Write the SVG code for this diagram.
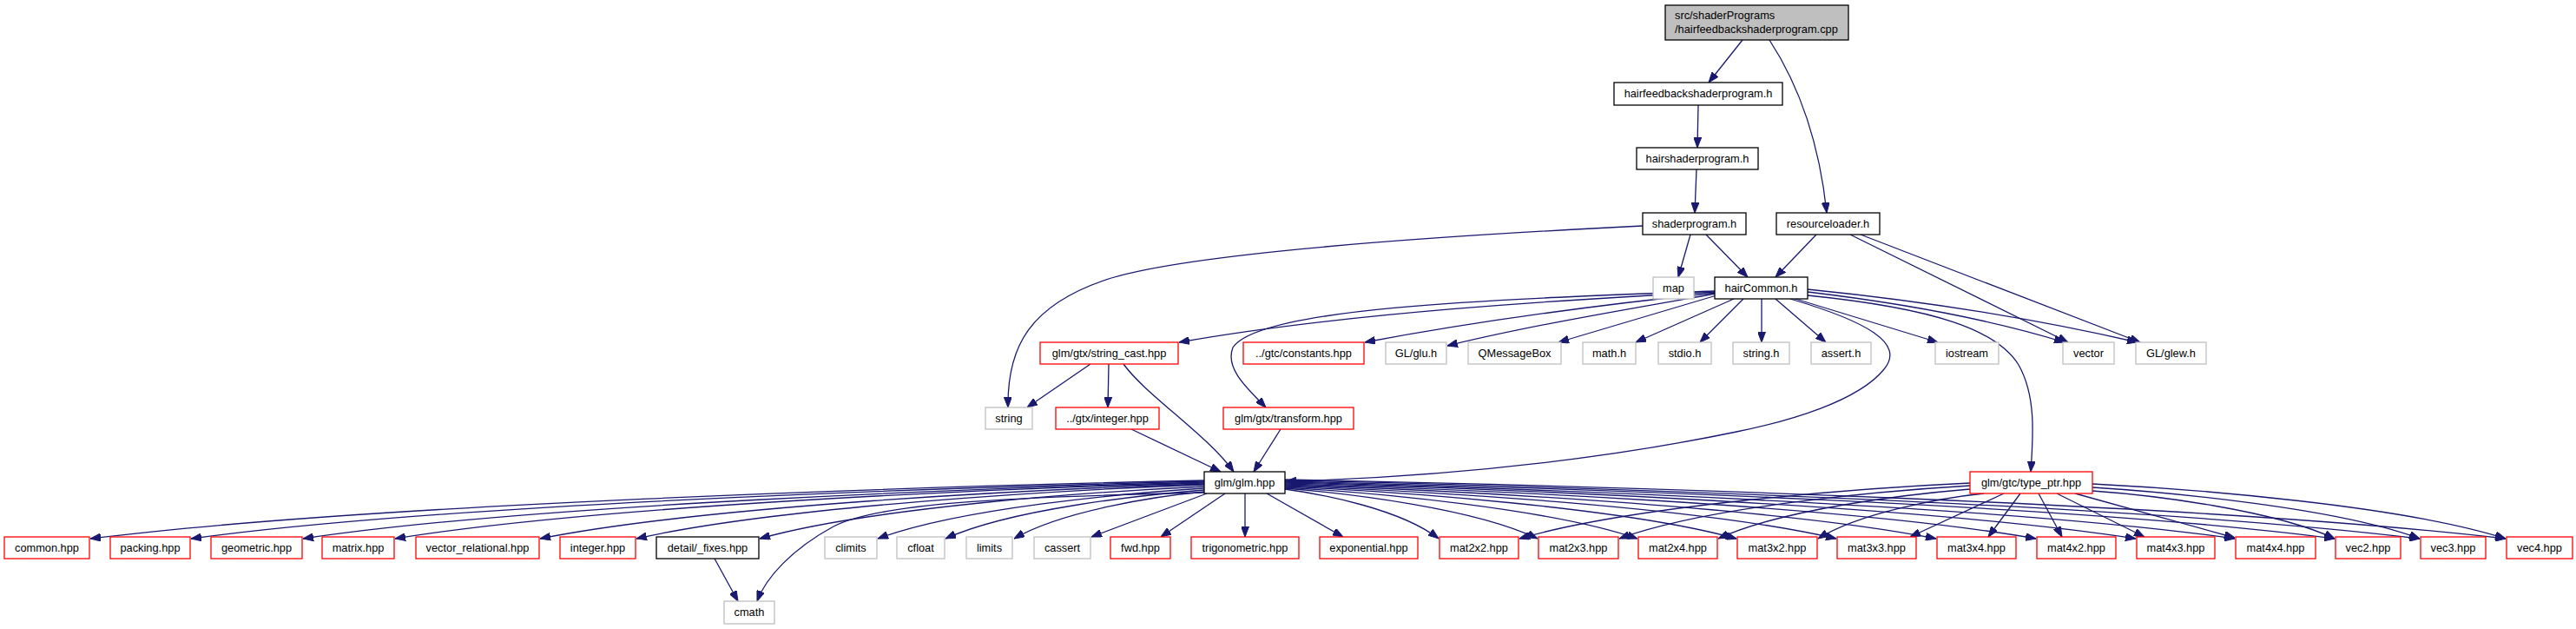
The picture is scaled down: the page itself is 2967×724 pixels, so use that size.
<svg xmlns="http://www.w3.org/2000/svg" width="2967" height="724" viewBox="0 0 2967 724">
<style>
rect{fill:#fff;stroke-width:1.3}
.k{stroke:#000}
.g{stroke:#bfbfbf}
.r{stroke:#ff0000}
.root{fill:#bfbfbf;stroke:#000}
text{font-family:"Liberation Sans",Arial,Helvetica,sans-serif;font-size:12.8px;fill:#000;text-anchor:middle}
text.l{text-anchor:start}
#edges path{fill:none;stroke:#191970;stroke-width:1.3;marker-end:url(#ah)}
</style>
<defs>
<marker id="ah" markerWidth="12" markerHeight="9" refX="12" refY="4.5" orient="auto" markerUnits="userSpaceOnUse">
<path d="M0,0 L12,4.5 L0,9 z" fill="#191970" stroke="#191970" stroke-width="1"/>
</marker>
</defs>
<rect x="0" y="0" width="2967" height="724" style="fill:#fff;stroke:none"/>
<g id="edges">
<path d="M2007,46 L1968,95"/>
<path d="M2038,46 C2070,95 2095,160 2104,245"/>
<path d="M1956,121 L1955,170"/>
<path d="M1954,195 L1952,245"/>
<path d="M1947,270 L1933,319"/>
<path d="M1965,270 L2013,319"/>
<path d="M2092,270 L2045,319"/>
<path d="M2131,270 L2382,394"/>
<path d="M2143,270 L2465,394"/>
<path d="M1892,260 C1650,272 1380,290 1280,320 C1185,350 1160,400 1161,469"/>
<path d="M1976,336 C1800,345 1550,360 1358,394"/>
<path d="M1976,337 C1850,350 1700,370 1572,394"/>
<path d="M1976,338 C1880,355 1760,375 1667,398"/>
<path d="M1977,340 L1795,394"/>
<path d="M1997,344 L1884,394"/>
<path d="M2008,344 L1958,394"/>
<path d="M2029,344 L2029,394"/>
<path d="M2045,344 L2103,394"/>
<path d="M2068,344 L2232,394"/>
<path d="M2082,336 C2200,350 2300,370 2378,394"/>
<path d="M2082,333 C2250,350 2380,375 2462,394"/>
<path d="M1976,335 C1700,345 1450,355 1420,400 C1410,425 1440,450 1458,469"/>
<path d="M2062,344 C2150,370 2195,395 2170,425 C2140,462 2060,485 2000,497 C1880,522 1700,548 1481,554"/>
<path d="M2082,340 C2230,355 2300,380 2325,420 C2345,455 2342,500 2339,543"/>
<path d="M1256,419 L1183,469"/>
<path d="M1277,419 L1276,469"/>
<path d="M1294,419 C1320,455 1390,500 1421,543"/>
<path d="M1303,494 L1406,543"/>
<path d="M1475,494 L1444,543"/>
<path d="M1387,553 C1066,560 425,580 104,620"/>
<path d="M1387,554 C1095,561 512,580 220,620"/>
<path d="M1387,555 C1128,562 609,581 349,620"/>
<path d="M1387,556 C1154,562 688,582 455,620"/>
<path d="M1387,557 C1196,563 813,582 622,620"/>
<path d="M1387,558 C1223,564 897,583 733,620"/>
<path d="M1387,560 C1259,566 1003,584 875,620"/>
<path d="M1387,562 C1293,568 1105,585 1011,620"/>
<path d="M1387,564 C1313,570 1164,586 1089,620"/>
<path d="M1387,566 C1332,571 1223,588 1168,620"/>
<path d="M1390,568 L1257,618"/>
<path d="M1411,568 L1337,618"/>
<path d="M1434,568 L1434,618"/>
<path d="M1459,568 L1547,618"/>
<path d="M1480,563 C1524,569 1613,586 1657,620"/>
<path d="M1480,562 C1553,568 1698,585 1771,620"/>
<path d="M1480,561 C1581,567 1784,585 1886,620"/>
<path d="M1480,560 C1610,566 1870,584 2000,620"/>
<path d="M1480,559 C1639,565 1956,583 2115,620"/>
<path d="M1480,558 C1667,564 2042,583 2230,620"/>
<path d="M1480,557 C1696,563 2129,582 2345,620"/>
<path d="M1480,556 C1725,562 2215,582 2460,620"/>
<path d="M1480,555 C1753,562 2300,581 2574,620"/>
<path d="M1480,554 C1782,561 2387,580 2689,620"/>
<path d="M1480,553 C1807,560 2460,580 2787,620"/>
<path d="M1480,552 C1832,559 2535,579 2886,620"/>
<path d="M2269,556 C2139,562 1880,582 1750,620"/>
<path d="M2269,559 C2168,565 1966,583 1865,620"/>
<path d="M2269,563 C2196,569 2052,586 1979,620"/>
<path d="M2285,568 C2237,573 2142,590 2094,620"/>
<path d="M2308,568 L2200,618"/>
<path d="M2327,568 L2290,618"/>
<path d="M2348,568 L2375,618"/>
<path d="M2369,568 L2470,618"/>
<path d="M2390,568 L2574,619"/>
<path d="M2410,565 C2480,570 2619,587 2689,620"/>
<path d="M2410,561 C2504,567 2693,585 2787,620"/>
<path d="M2410,557 C2529,563 2767,582 2886,620"/>
<path d="M1387,567 C1150,572 1010,580 960,606 C912,632 882,665 872,692"/>
<path d="M823,643 L850,692"/>
</g>
<g id="n_root"><rect class="root" x="1918" y="6" width="211" height="40"/><text class="l" x="1929" y="22">src/shaderPrograms</text><text class="l" x="1929" y="37.5">/hairfeedbackshaderprogram.cpp</text></g>
<g id="n_hfsp"><rect class="k" x="1859" y="95" width="194" height="26"/><text x="1956" y="112">hairfeedbackshaderprogram.h</text></g>
<g id="n_hsp"><rect class="k" x="1885" y="170" width="140" height="25"/><text x="1955" y="187">hairshaderprogram.h</text></g>
<g id="n_sp"><rect class="k" x="1892" y="245" width="119" height="25"/><text x="1951.5" y="262">shaderprogram.h</text></g>
<g id="n_rl"><rect class="k" x="2046" y="245" width="119" height="25"/><text x="2105.5" y="262">resourceloader.h</text></g>
<g id="n_map"><rect class="g" x="1904" y="319" width="47" height="25"/><text x="1927.5" y="336">map</text></g>
<g id="n_hc"><rect class="k" x="1975" y="319" width="107" height="25"/><text x="2028.5" y="336">hairCommon.h</text></g>
<g id="n_strcast"><rect class="r" x="1198" y="394" width="159" height="25"/><text x="1277.5" y="411">glm/gtx/string_cast.hpp</text></g>
<g id="n_const"><rect class="r" x="1432" y="394" width="139" height="25"/><text x="1501.5" y="411">../gtc/constants.hpp</text></g>
<g id="n_glu"><rect class="g" x="1596" y="394" width="70" height="25"/><text x="1631" y="411">GL/glu.h</text></g>
<g id="n_qmb"><rect class="g" x="1691" y="394" width="107" height="25"/><text x="1744.5" y="411">QMessageBox</text></g>
<g id="n_math"><rect class="g" x="1823" y="394" width="61" height="25"/><text x="1853.5" y="411">math.h</text></g>
<g id="n_stdio"><rect class="g" x="1910" y="394" width="61" height="25"/><text x="1940.5" y="411">stdio.h</text></g>
<g id="n_stringh"><rect class="g" x="1996" y="394" width="65" height="25"/><text x="2028.5" y="411">string.h</text></g>
<g id="n_assert"><rect class="g" x="2086" y="394" width="69" height="25"/><text x="2120.5" y="411">assert.h</text></g>
<g id="n_iostream"><rect class="g" x="2229" y="394" width="73" height="25"/><text x="2265.5" y="411">iostream</text></g>
<g id="n_vector"><rect class="g" x="2376" y="394" width="59" height="25"/><text x="2405.5" y="411">vector</text></g>
<g id="n_glew"><rect class="g" x="2460" y="394" width="81" height="25"/><text x="2500.5" y="411">GL/glew.h</text></g>
<g id="n_string"><rect class="g" x="1135" y="469" width="54" height="25"/><text x="1162" y="486">string</text></g>
<g id="n_gtxint"><rect class="r" x="1216" y="469" width="119" height="25"/><text x="1275.5" y="486">../gtx/integer.hpp</text></g>
<g id="n_transform"><rect class="r" x="1409" y="469" width="150" height="25"/><text x="1484" y="486">glm/gtx/transform.hpp</text></g>
<g id="n_glm"><rect class="k" x="1387" y="543" width="93" height="25"/><text x="1433.5" y="560">glm/glm.hpp</text></g>
<g id="n_typeptr"><rect class="r" x="2269" y="543" width="141" height="25"/><text x="2339.5" y="560">glm/gtc/type_ptr.hpp</text></g>
<g id="n_common"><rect class="r" x="5" y="618" width="98" height="25"/><text x="54" y="635">common.hpp</text></g>
<g id="n_packing"><rect class="r" x="127" y="618" width="92" height="25"/><text x="173" y="635">packing.hpp</text></g>
<g id="n_geometric"><rect class="r" x="243" y="618" width="105" height="25"/><text x="295.5" y="635">geometric.hpp</text></g>
<g id="n_matrix"><rect class="r" x="371" y="618" width="83" height="25"/><text x="412.5" y="635">matrix.hpp</text></g>
<g id="n_vecrel"><rect class="r" x="479" y="618" width="142" height="25"/><text x="550" y="635">vector_relational.hpp</text></g>
<g id="n_integer"><rect class="r" x="645" y="618" width="87" height="25"/><text x="688.5" y="635">integer.hpp</text></g>
<g id="n_fixes"><rect class="k" x="756" y="618" width="118" height="25"/><text x="815" y="635">detail/_fixes.hpp</text></g>
<g id="n_climits"><rect class="g" x="950" y="618" width="60" height="25"/><text x="980" y="635">climits</text></g>
<g id="n_cfloat"><rect class="g" x="1033" y="618" width="55" height="25"/><text x="1060.5" y="635">cfloat</text></g>
<g id="n_limits"><rect class="g" x="1113" y="618" width="53" height="25"/><text x="1139.5" y="635">limits</text></g>
<g id="n_cassert"><rect class="g" x="1191" y="618" width="65" height="25"/><text x="1223.5" y="635">cassert</text></g>
<g id="n_fwd"><rect class="r" x="1279" y="618" width="69" height="25"/><text x="1313.5" y="635">fwd.hpp</text></g>
<g id="n_trig"><rect class="r" x="1372" y="618" width="124" height="25"/><text x="1434" y="635">trigonometric.hpp</text></g>
<g id="n_exp"><rect class="r" x="1520" y="618" width="113" height="25"/><text x="1576.5" y="635">exponential.hpp</text></g>
<g id="n_m22"><rect class="r" x="1658" y="618" width="91" height="25"/><text x="1703.5" y="635">mat2x2.hpp</text></g>
<g id="n_m23"><rect class="r" x="1772" y="618" width="92" height="25"/><text x="1818" y="635">mat2x3.hpp</text></g>
<g id="n_m24"><rect class="r" x="1887" y="618" width="91" height="25"/><text x="1932.5" y="635">mat2x4.hpp</text></g>
<g id="n_m32"><rect class="r" x="2001" y="618" width="92" height="25"/><text x="2047" y="635">mat3x2.hpp</text></g>
<g id="n_m33"><rect class="r" x="2116" y="618" width="91" height="25"/><text x="2161.5" y="635">mat3x3.hpp</text></g>
<g id="n_m34"><rect class="r" x="2231" y="618" width="91" height="25"/><text x="2276.5" y="635">mat3x4.hpp</text></g>
<g id="n_m42"><rect class="r" x="2346" y="618" width="91" height="25"/><text x="2391.5" y="635">mat4x2.hpp</text></g>
<g id="n_m43"><rect class="r" x="2461" y="618" width="90" height="25"/><text x="2506" y="635">mat4x3.hpp</text></g>
<g id="n_m44"><rect class="r" x="2575" y="618" width="92" height="25"/><text x="2621" y="635">mat4x4.hpp</text></g>
<g id="n_vec2"><rect class="r" x="2690" y="618" width="75" height="25"/><text x="2727.5" y="635">vec2.hpp</text></g>
<g id="n_vec3"><rect class="r" x="2788" y="618" width="75" height="25"/><text x="2825.5" y="635">vec3.hpp</text></g>
<g id="n_vec4"><rect class="r" x="2887" y="618" width="76" height="25"/><text x="2925" y="635">vec4.hpp</text></g>
<g id="n_cmath"><rect class="g" x="834" y="692" width="58" height="26"/><text x="863" y="709">cmath</text></g>
</svg>
